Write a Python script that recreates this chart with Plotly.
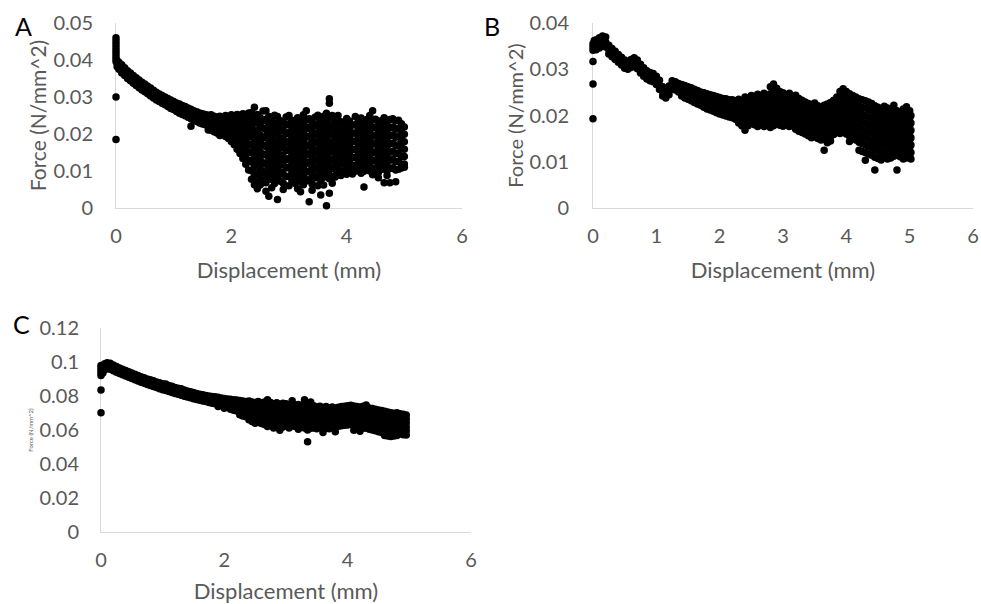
import plotly.graph_objects as go

# ---- panel A ----
a_disp = [0.00, 0.02, 0.05, 0.10, 0.15, 0.20, 0.25, 0.30, 0.35, 0.40,
          0.45, 0.50, 0.55, 0.60, 0.65, 0.70, 0.75, 0.80, 0.85, 0.90,
          0.95, 1.00, 1.05, 1.10, 1.15, 1.20, 1.25, 1.30, 1.35, 1.40,
          1.45, 1.50, 1.55, 1.60, 1.65, 1.70, 1.75, 1.80, 1.85, 1.90,
          1.95, 2.00, 2.05, 2.10, 2.15, 2.20, 2.25, 2.30, 2.35, 2.40,
          2.45, 2.50, 2.55, 2.60, 2.65, 2.70, 2.75, 2.80, 2.85, 2.90,
          2.95, 3.00, 3.05, 3.10, 3.15, 3.20, 3.25, 3.30, 3.35, 3.40,
          3.45, 3.50, 3.55, 3.60, 3.65, 3.70, 3.75, 3.80, 3.85, 3.90,
          3.95, 4.00, 4.05, 4.10, 4.15, 4.20, 4.25, 4.30, 4.35, 4.40,
          4.45, 4.50, 4.55, 4.60, 4.65, 4.70, 4.75, 4.80, 4.85, 4.90,
          4.95, 5.00]
a_force = [
    [0.0460, 0.0452, 0.0444, 0.0436, 0.0428, 0.0420, 0.0412, 0.0404, 0.0396, 0.0300, 0.0185],
    [0.0398, 0.0390, 0.0382],
    [0.0394, 0.0385, 0.0375],
    [0.0387, 0.0376, 0.0365],
    [0.0379, 0.0369, 0.0358],
    [0.0371, 0.0361, 0.0350],
    [0.0365, 0.0355, 0.0344],
    [0.0358, 0.0348, 0.0337],
    [0.0352, 0.0342, 0.0331],
    [0.0346, 0.0336, 0.0325],
    [0.0340, 0.0330, 0.0319],
    [0.0335, 0.0325, 0.0314],
    [0.0329, 0.0319, 0.0309],
    [0.0324, 0.0314, 0.0303],
    [0.0318, 0.0308, 0.0297],
    [0.0313, 0.0303, 0.0292],
    [0.0308, 0.0298, 0.0288],
    [0.0304, 0.0294, 0.0283],
    [0.0300, 0.0290, 0.0279],
    [0.0296, 0.0285, 0.0274],
    [0.0292, 0.0281, 0.0269],
    [0.0288, 0.0277, 0.0266],
    [0.0284, 0.0272, 0.0261],
    [0.0281, 0.0268, 0.0256],
    [0.0277, 0.0264, 0.0253],
    [0.0274, 0.0261, 0.0249],
    [0.0270, 0.0257, 0.0245],
    [0.0267, 0.0254, 0.0241, 0.0221],
    [0.0263, 0.0250, 0.0237],
    [0.0260, 0.0247, 0.0234],
    [0.0257, 0.0244, 0.0230],
    [0.0255, 0.0241, 0.0227],
    [0.0253, 0.0239, 0.0225],
    [0.0251, 0.0237, 0.0223, 0.0211],
    [0.0252, 0.0238, 0.0224, 0.0210],
    [0.0248, 0.0234, 0.0220, 0.0206],
    [0.0246, 0.0232, 0.0218, 0.0203],
    [0.0248, 0.0234, 0.0219, 0.0205, 0.0196],
    [0.0246, 0.0231, 0.0215, 0.0200],
    [0.0250, 0.0236, 0.0222, 0.0208, 0.0193],
    [0.0247, 0.0232, 0.0218, 0.0203, 0.0188],
    [0.0252, 0.0237, 0.0222, 0.0207, 0.0192, 0.0180],
    [0.0249, 0.0233, 0.0218, 0.0202, 0.0186, 0.0171],
    [0.0253, 0.0238, 0.0222, 0.0206, 0.0190, 0.0175, 0.0159],
    [0.0251, 0.0235, 0.0219, 0.0203, 0.0186, 0.0168, 0.0147],
    [0.0255, 0.0240, 0.0224, 0.0207, 0.0190, 0.0172, 0.0152, 0.0134],
    [0.0252, 0.0236, 0.0220, 0.0203, 0.0185, 0.0166, 0.0145, 0.0118],
    [0.0257, 0.0242, 0.0226, 0.0210, 0.0192, 0.0173, 0.0152, 0.0130, 0.0103],
    [0.0258, 0.0239, 0.0215, 0.0194, 0.0170, 0.0150, 0.0124, 0.0101, 0.0078],
    [0.0272, 0.0248, 0.0229, 0.0203, 0.0183, 0.0158, 0.0137, 0.0112, 0.0088, 0.0063],
    [0.0253, 0.0231, 0.0210, 0.0186, 0.0166, 0.0141, 0.0120, 0.0094, 0.0070, 0.0052],
    [0.0244, 0.0222, 0.0198, 0.0177, 0.0153, 0.0131, 0.0106, 0.0083, 0.0062],
    [0.0262, 0.0236, 0.0216, 0.0190, 0.0170, 0.0146, 0.0122, 0.0099, 0.0075],
    [0.0263, 0.0240, 0.0212, 0.0193, 0.0166, 0.0143, 0.0118, 0.0093, 0.0068, 0.0045],
    [0.0247, 0.0226, 0.0202, 0.0181, 0.0157, 0.0133, 0.0111, 0.0085, 0.0032],
    [0.0238, 0.0214, 0.0194, 0.0169, 0.0148, 0.0125, 0.0099, 0.0077, 0.0055],
    [0.0251, 0.0229, 0.0206, 0.0182, 0.0161, 0.0136, 0.0114, 0.0090, 0.0066],
    [0.0247, 0.0221, 0.0199, 0.0176, 0.0153, 0.0129, 0.0106, 0.0081, 0.0023],
    [0.0236, 0.0213, 0.0190, 0.0168, 0.0144, 0.0121, 0.0097, 0.0072],
    [0.0231, 0.0208, 0.0185, 0.0163, 0.0138, 0.0116, 0.0091, 0.0067, 0.0050],
    [0.0246, 0.0224, 0.0200, 0.0177, 0.0155, 0.0131, 0.0108, 0.0085],
    [0.0250, 0.0227, 0.0204, 0.0180, 0.0158, 0.0134, 0.0111, 0.0086, 0.0060],
    [0.0237, 0.0214, 0.0191, 0.0169, 0.0145, 0.0122, 0.0099, 0.0074],
    [0.0229, 0.0207, 0.0183, 0.0160, 0.0137, 0.0114, 0.0090, 0.0067],
    [0.0244, 0.0220, 0.0198, 0.0174, 0.0151, 0.0128, 0.0104, 0.0080, 0.0052],
    [0.0236, 0.0213, 0.0189, 0.0166, 0.0143, 0.0119, 0.0096, 0.0071, 0.0044],
    [0.0252, 0.0228, 0.0205, 0.0181, 0.0158, 0.0135, 0.0111, 0.0088, 0.0063],
    [0.0263, 0.0238, 0.0214, 0.0191, 0.0167, 0.0144, 0.0120, 0.0097, 0.0073],
    [0.0241, 0.0218, 0.0194, 0.0171, 0.0147, 0.0124, 0.0100, 0.0077, 0.0017],
    [0.0230, 0.0206, 0.0183, 0.0159, 0.0136, 0.0112, 0.0089, 0.0065, 0.0048],
    [0.0245, 0.0222, 0.0198, 0.0175, 0.0151, 0.0128, 0.0104, 0.0081],
    [0.0251, 0.0227, 0.0204, 0.0180, 0.0157, 0.0133, 0.0110, 0.0086, 0.0060],
    [0.0239, 0.0216, 0.0192, 0.0169, 0.0145, 0.0122, 0.0098, 0.0075, 0.0035],
    [0.0248, 0.0224, 0.0201, 0.0177, 0.0154, 0.0130, 0.0107, 0.0083, 0.0062],
    [0.0256, 0.0232, 0.0209, 0.0185, 0.0162, 0.0138, 0.0115, 0.0091, 0.0006],
    [0.0295, 0.0283, 0.0244, 0.0220, 0.0197, 0.0173, 0.0150, 0.0126, 0.0103, 0.0079, 0.0040],
    [0.0250, 0.0226, 0.0203, 0.0179, 0.0156, 0.0132, 0.0109, 0.0085, 0.0067],
    [0.0236, 0.0214, 0.0192, 0.0170, 0.0148, 0.0126, 0.0104, 0.0084],
    [0.0250, 0.0227, 0.0205, 0.0183, 0.0161, 0.0139, 0.0117, 0.0095],
    [0.0233, 0.0211, 0.0189, 0.0167, 0.0145, 0.0123, 0.0101, 0.0088],
    [0.0228, 0.0206, 0.0184, 0.0162, 0.0140, 0.0118, 0.0096],
    [0.0242, 0.0220, 0.0198, 0.0176, 0.0154, 0.0132, 0.0110, 0.0091],
    [0.0235, 0.0213, 0.0191, 0.0169, 0.0147, 0.0125, 0.0103],
    [0.0224, 0.0202, 0.0180, 0.0158, 0.0136, 0.0114, 0.0092],
    [0.0247, 0.0225, 0.0203, 0.0181, 0.0159, 0.0137, 0.0115, 0.0099],
    [0.0238, 0.0216, 0.0194, 0.0172, 0.0150, 0.0128, 0.0106],
    [0.0243, 0.0221, 0.0199, 0.0177, 0.0155, 0.0133, 0.0111, 0.0094],
    [0.0231, 0.0209, 0.0187, 0.0165, 0.0143, 0.0121, 0.0099, 0.0057],
    [0.0239, 0.0217, 0.0195, 0.0173, 0.0151, 0.0129, 0.0107],
    [0.0250, 0.0228, 0.0206, 0.0184, 0.0162, 0.0140, 0.0118, 0.0100],
    [0.0263, 0.0238, 0.0216, 0.0194, 0.0172, 0.0150, 0.0128, 0.0106, 0.0090],
    [0.0240, 0.0218, 0.0196, 0.0174, 0.0152, 0.0130, 0.0108],
    [0.0228, 0.0206, 0.0184, 0.0162, 0.0140, 0.0118, 0.0096, 0.0082],
    [0.0236, 0.0214, 0.0192, 0.0170, 0.0148, 0.0126, 0.0104],
    [0.0244, 0.0222, 0.0200, 0.0178, 0.0156, 0.0134, 0.0112, 0.0068],
    [0.0232, 0.0210, 0.0188, 0.0166, 0.0144, 0.0122, 0.0100, 0.0088],
    [0.0239, 0.0217, 0.0195, 0.0173, 0.0151, 0.0129, 0.0107, 0.0068],
    [0.0241, 0.0219, 0.0197, 0.0175, 0.0153, 0.0131, 0.0109],
    [0.0235, 0.0213, 0.0191, 0.0169, 0.0147, 0.0125, 0.0103, 0.0071],
    [0.0237, 0.0215, 0.0193, 0.0171, 0.0149, 0.0127, 0.0105],
    [0.0228, 0.0206, 0.0184, 0.0162, 0.0140, 0.0118, 0.0108],
    [0.0219, 0.0199, 0.0179, 0.0159, 0.0139, 0.0119, 0.0110],
]

# ---- panel B ----
b_disp = [0.00, 0.02, 0.05, 0.10, 0.15, 0.20, 0.25, 0.30, 0.35, 0.40,
          0.45, 0.50, 0.55, 0.60, 0.65, 0.70, 0.75, 0.80, 0.85, 0.90,
          0.95, 1.00, 1.05, 1.10, 1.15, 1.20, 1.25, 1.30, 1.35, 1.40,
          1.45, 1.50, 1.55, 1.60, 1.65, 1.70, 1.75, 1.80, 1.85, 1.90,
          1.95, 2.00, 2.05, 2.10, 2.15, 2.20, 2.25, 2.30, 2.35, 2.40,
          2.45, 2.50, 2.55, 2.60, 2.65, 2.70, 2.75, 2.80, 2.85, 2.90,
          2.95, 3.00, 3.05, 3.10, 3.15, 3.20, 3.25, 3.30, 3.35, 3.40,
          3.45, 3.50, 3.55, 3.60, 3.65, 3.70, 3.75, 3.80, 3.85, 3.90,
          3.95, 4.00, 4.05, 4.10, 4.15, 4.20, 4.25, 4.30, 4.35, 4.40,
          4.45, 4.50, 4.55, 4.60, 4.65, 4.70, 4.75, 4.80, 4.85, 4.90,
          4.95, 5.00, 5.02]
b_force = [
    [0.0355, 0.0348, 0.0341, 0.0317, 0.0268, 0.0193],
    [0.0362, 0.0352, 0.0343],
    [0.0364, 0.0352, 0.0342],
    [0.0368, 0.0357, 0.0346],
    [0.0372, 0.0362, 0.0350],
    [0.0370, 0.0359, 0.0348],
    [0.0352, 0.0342, 0.0333],
    [0.0345, 0.0336, 0.0327],
    [0.0339, 0.0330, 0.0321],
    [0.0332, 0.0323, 0.0315],
    [0.0326, 0.0317, 0.0309],
    [0.0320, 0.0311, 0.0302],
    [0.0316, 0.0308, 0.0300],
    [0.0321, 0.0312, 0.0304],
    [0.0325, 0.0316, 0.0307],
    [0.0320, 0.0311, 0.0301],
    [0.0311, 0.0302, 0.0292],
    [0.0303, 0.0294, 0.0285],
    [0.0297, 0.0288, 0.0279],
    [0.0293, 0.0284, 0.0275],
    [0.0291, 0.0282, 0.0273],
    [0.0285, 0.0276, 0.0267],
    [0.0276, 0.0266, 0.0256],
    [0.0262, 0.0252, 0.0242],
    [0.0256, 0.0247, 0.0238],
    [0.0264, 0.0255, 0.0245],
    [0.0275, 0.0266, 0.0257],
    [0.0273, 0.0264, 0.0255],
    [0.0269, 0.0260, 0.0251],
    [0.0267, 0.0258, 0.0249, 0.0242],
    [0.0265, 0.0256, 0.0246, 0.0238],
    [0.0262, 0.0253, 0.0243, 0.0235],
    [0.0260, 0.0250, 0.0240, 0.0232],
    [0.0257, 0.0247, 0.0237, 0.0228],
    [0.0254, 0.0244, 0.0234, 0.0225],
    [0.0251, 0.0241, 0.0231, 0.0222],
    [0.0249, 0.0238, 0.0227, 0.0218],
    [0.0247, 0.0236, 0.0224, 0.0214],
    [0.0245, 0.0233, 0.0221, 0.0212],
    [0.0243, 0.0232, 0.0220, 0.0209],
    [0.0241, 0.0229, 0.0217, 0.0206],
    [0.0239, 0.0227, 0.0215, 0.0203],
    [0.0237, 0.0225, 0.0213, 0.0201],
    [0.0236, 0.0224, 0.0211, 0.0199],
    [0.0234, 0.0221, 0.0209, 0.0197],
    [0.0234, 0.0221, 0.0208, 0.0195],
    [0.0232, 0.0219, 0.0205, 0.0192],
    [0.0235, 0.0222, 0.0208, 0.0194, 0.0184],
    [0.0231, 0.0217, 0.0203, 0.0189, 0.0178],
    [0.0240, 0.0226, 0.0211, 0.0196, 0.0183, 0.0168],
    [0.0236, 0.0220, 0.0205, 0.0191, 0.0178],
    [0.0243, 0.0229, 0.0214, 0.0199, 0.0185],
    [0.0238, 0.0223, 0.0208, 0.0194, 0.0180],
    [0.0246, 0.0231, 0.0217, 0.0202, 0.0187, 0.0176],
    [0.0241, 0.0225, 0.0210, 0.0195, 0.0181],
    [0.0248, 0.0233, 0.0219, 0.0204, 0.0190, 0.0176],
    [0.0243, 0.0228, 0.0212, 0.0197, 0.0183],
    [0.0262, 0.0247, 0.0231, 0.0216, 0.0201, 0.0187, 0.0174],
    [0.0268, 0.0252, 0.0237, 0.0222, 0.0207, 0.0192, 0.0178],
    [0.0259, 0.0244, 0.0228, 0.0213, 0.0198, 0.0183],
    [0.0252, 0.0238, 0.0223, 0.0208, 0.0193, 0.0179],
    [0.0249, 0.0234, 0.0219, 0.0205, 0.0190, 0.0177],
    [0.0245, 0.0231, 0.0216, 0.0201, 0.0187, 0.0181],
    [0.0248, 0.0233, 0.0218, 0.0203, 0.0189, 0.0176],
    [0.0241, 0.0227, 0.0212, 0.0197, 0.0183],
    [0.0244, 0.0229, 0.0214, 0.0199, 0.0184, 0.0170],
    [0.0237, 0.0222, 0.0207, 0.0193, 0.0179, 0.0166],
    [0.0233, 0.0219, 0.0204, 0.0189, 0.0175, 0.0163],
    [0.0229, 0.0215, 0.0200, 0.0186, 0.0172, 0.0160],
    [0.0226, 0.0212, 0.0197, 0.0182, 0.0168, 0.0156],
    [0.0224, 0.0209, 0.0194, 0.0180, 0.0165, 0.0152],
    [0.0227, 0.0212, 0.0197, 0.0182, 0.0167, 0.0154],
    [0.0221, 0.0206, 0.0191, 0.0177, 0.0162, 0.0150],
    [0.0218, 0.0203, 0.0189, 0.0174, 0.0160, 0.0147],
    [0.0222, 0.0207, 0.0192, 0.0177, 0.0162, 0.0148, 0.0125],
    [0.0225, 0.0210, 0.0195, 0.0180, 0.0165, 0.0151, 0.0141],
    [0.0228, 0.0213, 0.0198, 0.0183, 0.0168, 0.0154, 0.0145],
    [0.0233, 0.0218, 0.0203, 0.0188, 0.0173, 0.0159],
    [0.0240, 0.0225, 0.0209, 0.0194, 0.0179, 0.0164],
    [0.0252, 0.0237, 0.0221, 0.0206, 0.0190, 0.0175, 0.0161],
    [0.0258, 0.0242, 0.0226, 0.0211, 0.0195, 0.0180, 0.0165],
    [0.0252, 0.0236, 0.0221, 0.0205, 0.0190, 0.0174, 0.0160],
    [0.0247, 0.0232, 0.0216, 0.0201, 0.0185, 0.0170, 0.0155, 0.0144],
    [0.0243, 0.0228, 0.0212, 0.0197, 0.0181, 0.0166, 0.0151],
    [0.0240, 0.0224, 0.0209, 0.0193, 0.0178, 0.0162, 0.0147],
    [0.0236, 0.0221, 0.0205, 0.0190, 0.0174, 0.0158, 0.0142, 0.0125],
    [0.0234, 0.0218, 0.0202, 0.0187, 0.0171, 0.0155, 0.0139, 0.0122],
    [0.0232, 0.0216, 0.0200, 0.0184, 0.0168, 0.0152, 0.0136, 0.0120, 0.0103],
    [0.0229, 0.0213, 0.0197, 0.0181, 0.0165, 0.0149, 0.0133, 0.0117],
    [0.0226, 0.0210, 0.0194, 0.0178, 0.0162, 0.0146, 0.0130, 0.0114],
    [0.0221, 0.0206, 0.0190, 0.0174, 0.0158, 0.0142, 0.0126, 0.0110, 0.0082],
    [0.0218, 0.0202, 0.0186, 0.0171, 0.0155, 0.0139, 0.0123, 0.0107],
    [0.0214, 0.0199, 0.0183, 0.0167, 0.0151, 0.0136, 0.0120, 0.0104],
    [0.0220, 0.0204, 0.0188, 0.0172, 0.0156, 0.0140, 0.0124, 0.0110],
    [0.0216, 0.0200, 0.0184, 0.0168, 0.0152, 0.0136, 0.0120, 0.0106],
    [0.0212, 0.0197, 0.0181, 0.0165, 0.0149, 0.0133, 0.0118, 0.0108],
    [0.0222, 0.0206, 0.0190, 0.0174, 0.0158, 0.0142, 0.0126, 0.0112],
    [0.0210, 0.0194, 0.0178, 0.0162, 0.0146, 0.0130, 0.0115, 0.0082],
    [0.0205, 0.0190, 0.0174, 0.0158, 0.0142, 0.0126, 0.0111],
    [0.0214, 0.0198, 0.0182, 0.0166, 0.0150, 0.0134, 0.0118, 0.0106],
    [0.0219, 0.0203, 0.0187, 0.0171, 0.0155, 0.0139, 0.0123, 0.0108],
    [0.0210, 0.0194, 0.0178, 0.0162, 0.0146, 0.0130, 0.0114],
    [0.0200, 0.0184, 0.0168, 0.0152, 0.0136, 0.0120, 0.0106],
]

# ---- panel C ----
c_disp = [0.00, 0.03, 0.06, 0.10, 0.15, 0.20, 0.25, 0.30, 0.35, 0.40,
          0.45, 0.50, 0.55, 0.60, 0.65, 0.70, 0.75, 0.80, 0.85, 0.90,
          0.95, 1.00, 1.05, 1.10, 1.15, 1.20, 1.25, 1.30, 1.35, 1.40,
          1.45, 1.50, 1.55, 1.60, 1.65, 1.70, 1.75, 1.80, 1.85, 1.90,
          1.95, 2.00, 2.05, 2.10, 2.15, 2.20, 2.25, 2.30, 2.35, 2.40,
          2.45, 2.50, 2.55, 2.60, 2.65, 2.70, 2.75, 2.80, 2.85, 2.90,
          2.95, 3.00, 3.05, 3.10, 3.15, 3.20, 3.25, 3.30, 3.35, 3.40,
          3.45, 3.50, 3.55, 3.60, 3.65, 3.70, 3.75, 3.80, 3.85, 3.90,
          3.95, 4.00, 4.05, 4.10, 4.15, 4.20, 4.25, 4.30, 4.35, 4.40,
          4.45, 4.50, 4.55, 4.60, 4.65, 4.70, 4.75, 4.80, 4.85, 4.90,
          4.95]
c_force = [
    [0.0980, 0.0965, 0.0950, 0.0935, 0.0920, 0.0835, 0.0702],
    [0.0975, 0.0955, 0.0935],
    [0.0990, 0.0972, 0.0955],
    [0.0995, 0.0978, 0.0960],
    [0.0992, 0.0975, 0.0958],
    [0.0982, 0.0965, 0.0948],
    [0.0973, 0.0957, 0.0940],
    [0.0965, 0.0948, 0.0932],
    [0.0958, 0.0941, 0.0925],
    [0.0950, 0.0933, 0.0917],
    [0.0942, 0.0926, 0.0910],
    [0.0935, 0.0919, 0.0903],
    [0.0928, 0.0912, 0.0896],
    [0.0920, 0.0904, 0.0888],
    [0.0913, 0.0897, 0.0881],
    [0.0907, 0.0891, 0.0875],
    [0.0900, 0.0884, 0.0868],
    [0.0895, 0.0878, 0.0862],
    [0.0889, 0.0872, 0.0856],
    [0.0883, 0.0866, 0.0850],
    [0.0878, 0.0860, 0.0843],
    [0.0872, 0.0854, 0.0837],
    [0.0870, 0.0851, 0.0832],
    [0.0862, 0.0844, 0.0826],
    [0.0857, 0.0839, 0.0821],
    [0.0850, 0.0832, 0.0815],
    [0.0846, 0.0828, 0.0810],
    [0.0842, 0.0823, 0.0805],
    [0.0835, 0.0817, 0.0799],
    [0.0830, 0.0812, 0.0794],
    [0.0825, 0.0807, 0.0789],
    [0.0820, 0.0802, 0.0784],
    [0.0815, 0.0797, 0.0779],
    [0.0811, 0.0793, 0.0775],
    [0.0807, 0.0789, 0.0771],
    [0.0803, 0.0785, 0.0767],
    [0.0800, 0.0781, 0.0762],
    [0.0797, 0.0778, 0.0758],
    [0.0795, 0.0775, 0.0755],
    [0.0792, 0.0772, 0.0752, 0.0738],
    [0.0788, 0.0768, 0.0748],
    [0.0786, 0.0766, 0.0746, 0.0728],
    [0.0783, 0.0763, 0.0743],
    [0.0781, 0.0761, 0.0740, 0.0722],
    [0.0778, 0.0758, 0.0737, 0.0716],
    [0.0776, 0.0755, 0.0734, 0.0712],
    [0.0773, 0.0752, 0.0731, 0.0708, 0.0690],
    [0.0771, 0.0750, 0.0728, 0.0705, 0.0683],
    [0.0768, 0.0747, 0.0725, 0.0702, 0.0678],
    [0.0770, 0.0748, 0.0725, 0.0701, 0.0677, 0.0660],
    [0.0765, 0.0743, 0.0720, 0.0696, 0.0672, 0.0650],
    [0.0762, 0.0740, 0.0717, 0.0693, 0.0669, 0.0640],
    [0.0768, 0.0745, 0.0721, 0.0697, 0.0672, 0.0648],
    [0.0760, 0.0737, 0.0713, 0.0689, 0.0664, 0.0638],
    [0.0765, 0.0741, 0.0716, 0.0691, 0.0665, 0.0632],
    [0.0778, 0.0758, 0.0734, 0.0709, 0.0684, 0.0658, 0.0620],
    [0.0762, 0.0738, 0.0713, 0.0688, 0.0662, 0.0635],
    [0.0755, 0.0731, 0.0706, 0.0681, 0.0655, 0.0612],
    [0.0760, 0.0735, 0.0710, 0.0685, 0.0660, 0.0630],
    [0.0752, 0.0728, 0.0703, 0.0678, 0.0652, 0.0625, 0.0598],
    [0.0758, 0.0733, 0.0708, 0.0683, 0.0658, 0.0618],
    [0.0755, 0.0730, 0.0705, 0.0680, 0.0654, 0.0628],
    [0.0748, 0.0724, 0.0700, 0.0675, 0.0650, 0.0612],
    [0.0772, 0.0753, 0.0728, 0.0703, 0.0678, 0.0652, 0.0625],
    [0.0745, 0.0721, 0.0697, 0.0672, 0.0647, 0.0620],
    [0.0750, 0.0725, 0.0700, 0.0674, 0.0648, 0.0605],
    [0.0742, 0.0718, 0.0694, 0.0669, 0.0644, 0.0618],
    [0.0778, 0.0745, 0.0720, 0.0695, 0.0669, 0.0643, 0.0612],
    [0.0740, 0.0716, 0.0691, 0.0666, 0.0640, 0.0600, 0.0531],
    [0.0765, 0.0738, 0.0713, 0.0688, 0.0662, 0.0636, 0.0610],
    [0.0742, 0.0717, 0.0692, 0.0666, 0.0640, 0.0612],
    [0.0736, 0.0712, 0.0688, 0.0663, 0.0638, 0.0608],
    [0.0740, 0.0715, 0.0690, 0.0665, 0.0639, 0.0615],
    [0.0733, 0.0709, 0.0685, 0.0660, 0.0635, 0.0605, 0.0585],
    [0.0738, 0.0713, 0.0688, 0.0663, 0.0637, 0.0612],
    [0.0731, 0.0707, 0.0683, 0.0658, 0.0633, 0.0608],
    [0.0735, 0.0711, 0.0686, 0.0661, 0.0636, 0.0615],
    [0.0730, 0.0706, 0.0682, 0.0657, 0.0632, 0.0618, 0.0590],
    [0.0734, 0.0710, 0.0686, 0.0661, 0.0637, 0.0622],
    [0.0738, 0.0714, 0.0690, 0.0666, 0.0642, 0.0625],
    [0.0740, 0.0717, 0.0693, 0.0669, 0.0645, 0.0628],
    [0.0742, 0.0719, 0.0695, 0.0671, 0.0648, 0.0630],
    [0.0745, 0.0721, 0.0697, 0.0673, 0.0649, 0.0632],
    [0.0741, 0.0718, 0.0694, 0.0670, 0.0646, 0.0627, 0.0598],
    [0.0738, 0.0714, 0.0690, 0.0666, 0.0642, 0.0620],
    [0.0735, 0.0711, 0.0687, 0.0663, 0.0639, 0.0615, 0.0592],
    [0.0740, 0.0715, 0.0690, 0.0665, 0.0640, 0.0612],
    [0.0747, 0.0726, 0.0702, 0.0678, 0.0654, 0.0630, 0.0610],
    [0.0730, 0.0706, 0.0682, 0.0658, 0.0634, 0.0605],
    [0.0726, 0.0702, 0.0678, 0.0654, 0.0630, 0.0600],
    [0.0722, 0.0698, 0.0674, 0.0650, 0.0626, 0.0595],
    [0.0718, 0.0694, 0.0670, 0.0646, 0.0622, 0.0590],
    [0.0714, 0.0690, 0.0666, 0.0642, 0.0618, 0.0585],
    [0.0710, 0.0686, 0.0662, 0.0638, 0.0614, 0.0590, 0.0568],
    [0.0706, 0.0682, 0.0658, 0.0634, 0.0610, 0.0586, 0.0565],
    [0.0702, 0.0678, 0.0654, 0.0630, 0.0606, 0.0582, 0.0562],
    [0.0698, 0.0675, 0.0651, 0.0627, 0.0603, 0.0580, 0.0565],
    [0.0702, 0.0678, 0.0654, 0.0630, 0.0606, 0.0582, 0.0568],
    [0.0696, 0.0672, 0.0648, 0.0624, 0.0600, 0.0578],
    [0.0692, 0.0668, 0.0644, 0.0620, 0.0596, 0.0572],
    [0.0688, 0.0665, 0.0642, 0.0618, 0.0595, 0.0570],
]

assert len(a_disp) == len(a_force)
assert len(b_disp) == len(b_force)
assert len(c_disp) == len(c_force)


def flatten(disp, force):
    xs, ys = [], []
    for x, col in zip(disp, force):
        for y in col:
            xs.append(x)
            ys.append(y)
    return xs, ys


W, H = 981, 604
FONT = "Lato"
GREY = "#595959"


def px_x(p):
    return p / W


def px_y(p):
    return 1 - p / H


fig = go.Figure()
for (disp, force), ax in [((a_disp, a_force), ""), ((b_disp, b_force), "2"), ((c_disp, c_force), "3")]:
    xs, ys = flatten(disp, force)
    fig.add_trace(go.Scatter(
        x=xs, y=ys, mode="markers",
        marker=dict(size=7.5, color="black"),
        cliponaxis=False, showlegend=False,
        xaxis="x" + ax, yaxis="y" + ax,
    ))

xbase = dict(range=[0, 6], showline=True, linecolor="#d9d9d9", linewidth=1,
             showgrid=False, zeroline=False, ticks="", layer="below traces",
             tickfont=dict(family=FONT, size=20, color=GREY),
             ticklabelstandoff=10, automargin=False,
             title=dict(text="Displacement (mm)", standoff=16,
                        font=dict(family=FONT, size=22, color=GREY)))
ybase = dict(showline=True, linecolor="#d9d9d9", linewidth=1,
             showgrid=False, zeroline=False, ticks="", layer="below traces",
             tickfont=dict(family=FONT, size=20, color=GREY), automargin=False)

fig.update_layout(
    width=W, height=H,
    margin=dict(l=0, r=0, t=0, b=0),
    paper_bgcolor="white", plot_bgcolor="white",
    xaxis=dict(xbase, domain=[px_x(116), px_x(462)], dtick=2, anchor="y"),
    yaxis=dict(ybase, domain=[px_y(208), px_y(23)], range=[0, 0.05], dtick=0.01,
               anchor="x", ticklabelstandoff=18,
               title=dict(text="Force (N/mm^2)", standoff=1,
                          font=dict(family=FONT, size=21, color=GREY))),
    xaxis2=dict(xbase, domain=[px_x(593), px_x(973)], dtick=1, anchor="y2"),
    yaxis2=dict(ybase, domain=[px_y(208), px_y(23)], range=[0, 0.04], dtick=0.01,
                anchor="x2", ticklabelstandoff=19,
                title=dict(text="Force (N/mm^2)", standoff=0,
                           font=dict(family=FONT, size=20, color=GREY))),
    xaxis3=dict(xbase, domain=[px_x(101), px_x(471)], dtick=2, anchor="y3"),
    yaxis3=dict(ybase, domain=[px_y(532), px_y(328)], range=[0, 0.12], dtick=0.02,
                anchor="x3", ticklabelstandoff=17,
                title=dict(text="Force (N/mm^2)", standoff=5,
                           font=dict(family=FONT, size=6, color=GREY))),
)

for letter, x, y in [("A", 23, 26), ("B", 492, 26), ("C", 21, 324)]:
    fig.add_annotation(text=letter, xref="paper", yref="paper",
                       x=px_x(x), y=px_y(y), xanchor="center", yanchor="middle",
                       showarrow=False, font=dict(family=FONT, size=25, color="black"))

# the page's default body margin would push the figure 8px off
fig.write_html("out.html", config={"displayModeBar": False},
               post_script="document.body.style.margin = '0';")
